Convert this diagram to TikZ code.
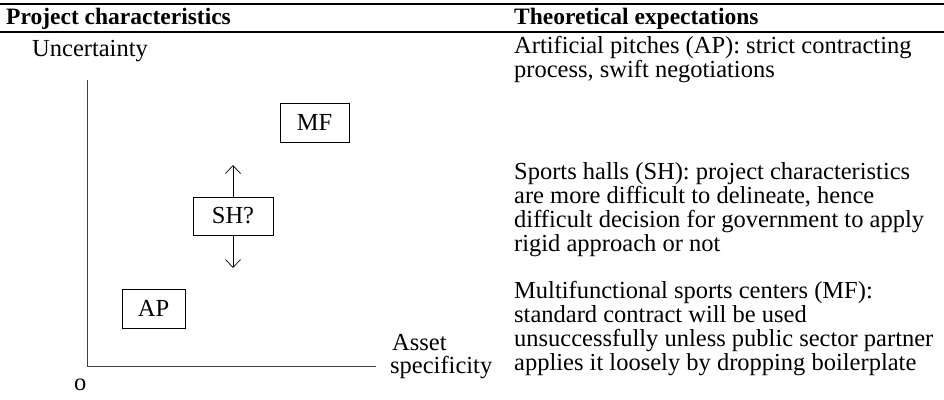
\documentclass[tikz,border=0pt]{standalone}
\usepackage{fontspec}
\setmainfont{Liberation Serif}
\usetikzlibrary{arrows.meta}
\tikzset{
  txt/.style={font=\fontsize{24.5}{24}\selectfont, inner sep=0pt, anchor=base west},
  hdr/.style={font=\fontsize{23.5}{24}\selectfont\bfseries, inner sep=0pt, anchor=base west},
  rule/.style={line width=1.3pt},
  catbox/.style={draw, line width=0.7pt, font=\fontsize{24.5}{24}\selectfont, inner sep=0pt},
  axis/.style={line width=0.7pt, draw=black!75},
  updown/.style={line width=0.7pt, -{Straight Barb[length=8pt,width=15pt,line width=0.7pt]}}
}
\begin{document}
\begin{tikzpicture}[x=1pt,y=-1pt]
\useasboundingbox (0,0) rectangle (944,399);
% rules
\coordinate (r1l) at (0,4); \coordinate (r1r) at (944,4);
\coordinate (r2l) at (0,32); \coordinate (r2r) at (944,32);
\draw[rule] (r1l) -- (r1r);
\draw[rule] (r2l) -- (r2r);
% headers
\node[hdr] (h1) at (6,24.5) {Project characteristics};
\node[hdr] (h2) at (514,24.5) {Theoretical expectations};
% axes
\node[txt] (unc) at (32,56) {Uncertainty};
\coordinate (ytop) at (87,80);
\coordinate (orig) at (87,366);
\coordinate (xend) at (376,366);
\draw[axis] (ytop) -- (orig) -- (xend);
\node[txt] (o) at (74,390) {o};
\node[txt] (asset1) at (392,350) {Asset};
\node[txt] (asset2) at (390,373) {specificity};
% boxes
\node[catbox, minimum width=69pt, minimum height=39pt] (mf) at (314.5,122.5) {MF};
\node[catbox, minimum width=80pt, minimum height=38pt] (sh) at (233,216) {SH?};
\node[catbox, minimum width=63pt, minimum height=39pt] (ap) at (153.5,308.5) {AP};
\coordinate (uptip) at (233,165);
\coordinate (dntip) at (233,268);
\draw[updown] (sh.north) -- (uptip);
\draw[updown] (sh.south) -- (dntip);
% right column
\foreach \t [count=\i] in {Artificial pitches (AP): strict contracting, {process, swift negotiations}}
  \node[txt] (ta\i) at (514,{53+24*(\i-1)}) {\t};
\foreach \t [count=\i] in {Sports halls (SH): project characteristics, {are more difficult to delineate, hence}, difficult decision for government to apply, rigid approach or not}
  \node[txt] (tb\i) at (514,{179+24*(\i-1)}) {\t};
\foreach \t [count=\i] in {Multifunctional sports centers (MF):, standard contract will be used, unsuccessfully unless public sector partner, applies it loosely by dropping boilerplate}
  \node[txt] (tc\i) at (514,{298+24*(\i-1)}) {\t};
\end{tikzpicture}
\end{document}
